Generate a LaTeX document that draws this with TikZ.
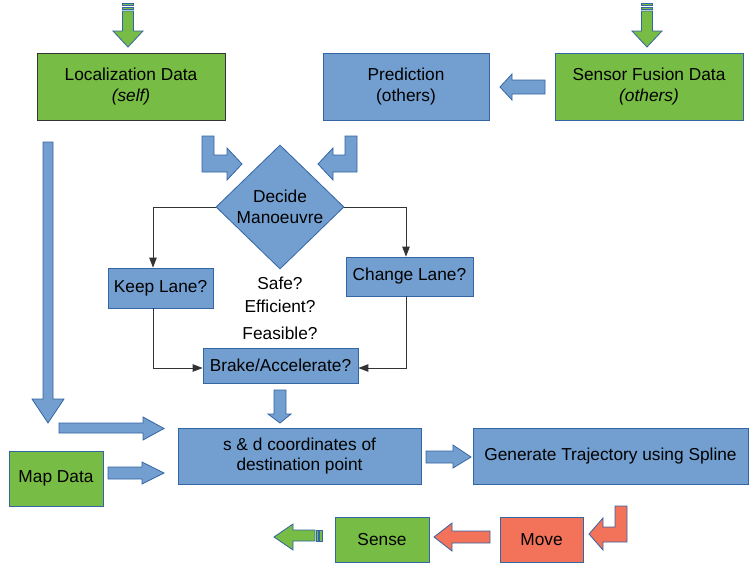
\documentclass[tikz,border=0pt]{standalone}
\usepackage{fontspec}
\setmainfont{Liberation Sans}
\usetikzlibrary{shapes.geometric,arrows.meta}
\definecolor{bfill}{HTML}{729FCF}
\definecolor{bline}{HTML}{3465A4}
\definecolor{gfill}{RGB}{119,188,68}
\definecolor{rfill}{RGB}{242,114,90}
\definecolor{dline}{HTML}{333333}
\tikzset{
  box/.style={rectangle, draw=bline, line width=0.8pt, inner sep=0pt, align=center,
    font=\fontsize{17.3}{20.5}\selectfont},
  bbox/.style={box, fill=bfill},
  gbox/.style={box, fill=gfill},
  rbox/.style={box, fill=rfill},
  barrow/.style={fill=bfill, draw=bline, line width=0.8pt, line join=miter},
  garrow/.style={fill=gfill, draw=bline, line width=0.8pt, line join=miter},
  gstripe/.style={fill=gfill, draw=bline, line width=0.4pt},
  rarrow/.style={fill=rfill, draw=bline, line width=0.8pt, line join=miter},
  conn/.style={draw=dline, line width=0.9pt, -{Triangle[length=10pt,width=7.5pt]}},
  lbl/.style={font=\fontsize{17.3}{20.5}\selectfont, inner sep=0pt},
}
\begin{document}
\begin{tikzpicture}[x=1pt,y=-1pt]
\useasboundingbox[fill=white] (0,0) rectangle (756,565);

% boxes
\node[gbox, draw=dline, minimum width=188pt, minimum height=67pt] (loc) at (131,86.5) {Localization Data\\\textit{(self)}};
\node[bbox, minimum width=166pt, minimum height=67pt] (pred) at (406,86.5) {Prediction\\(others)};
\node[gbox, minimum width=188pt, minimum height=67pt] (sens) at (649,86.5) {Sensor Fusion Data\\\textit{(others)}};

\node[diamond, fill=bfill, draw=bline, line width=0.8pt, inner sep=0pt, minimum width=128pt, minimum height=124pt] (dec) at (280,207) {};
\node[lbl, align=center] (dect) at (280,207) {Decide\\Manoeuvre};

\node[bbox, minimum width=105pt, minimum height=40pt] (keep) at (160.5,288) {Keep Lane?};
\node[bbox, minimum width=127pt, minimum height=39pt] (chg) at (409.5,276.5) {Change Lane?};
\node[bbox, minimum width=155pt, minimum height=35pt] (brake) at (280.5,365.5) {Brake/Accelerate?};

\node[lbl] (safe) at (280,283) {Safe?};
\node[lbl] (eff) at (280,306) {Efficient?};
\node[lbl] (feas) at (280,333) {Feasible?};

\node[bbox, minimum width=243pt, minimum height=56pt] (sd) at (299.5,456) {s \& d coordinates of\\destination point};
\node[bbox, minimum width=275pt, minimum height=56pt] (gen) at (610.5,456) {Generate Trajectory using Spline};
\node[gbox, minimum width=94pt, minimum height=55pt] (map) at (56,478.5) {Map Data};

\node[rbox, minimum width=83pt, minimum height=45pt] (move) at (541.5,539.5) {Move};
\node[gbox, minimum width=94pt, minimum height=45pt] (sense) at (382,539.5) {Sense};

% thin connectors
\draw[conn] (dec.west) -| ([xshift=-7.5pt]keep.north);
\draw[conn] (dec.east) -| ([xshift=-3.5pt]chg.north);
\draw[conn] ([xshift=-7.5pt]keep.south) |- ([yshift=-2.5pt]brake.west);
\draw[conn] ([xshift=-3.5pt]chg.south) |- ([yshift=-2.5pt]brake.east);

% top green striped arrows
\foreach \cx in {128,647}{
  \filldraw[gstripe] (\cx-5.5,3) rectangle (\cx+5.5,5.5);
  \filldraw[gstripe] (\cx-5.5,7) rectangle (\cx+5.5,9.5);
  \filldraw[garrow] (\cx-5.5,11) -- (\cx+5.5,11) -- (\cx+5.5,31) -- (\cx+15,31) -- (\cx,47) -- (\cx-15,31) -- (\cx-5.5,31) -- cycle;
}

% sensor -> prediction
\filldraw[barrow] (545,80) -- (512,80) -- (512,74) -- (500,87) -- (512,100) -- (512,94) -- (545,94) -- cycle;

% bent arrows into diamond
\filldraw[barrow] (202,136) -- (214,136) -- (214,155) -- (227,155) -- (227,148) -- (242,164) -- (227,180) -- (227,172) -- (202,172) -- cycle;
\filldraw[barrow] (357,136) -- (345,136) -- (345,155) -- (333,155) -- (333,148) -- (318,164) -- (333,180) -- (333,172) -- (357,172) -- cycle;

% long vertical arrow
\filldraw[barrow] (43,142) -- (53,142) -- (53,399) -- (64,399) -- (48,423) -- (32,399) -- (43,399) -- cycle;
% right arrows into s&d
\filldraw[barrow] (59,423) -- (143,423) -- (143,417) -- (164,428.5) -- (143,440) -- (143,433) -- (59,433) -- cycle;
\filldraw[barrow] (108,467) -- (142,467) -- (142,462) -- (164,473) -- (142,484) -- (142,479) -- (108,479) -- cycle;
% down arrow below brake
\filldraw[barrow] (274,390) -- (286,390) -- (286,414) -- (291,414) -- (280,423) -- (268,414) -- (274,414) -- cycle;
% s&d -> generate
\filldraw[barrow] (426,451) -- (453,451) -- (453,445) -- (471,457) -- (453,468) -- (453,463) -- (426,463) -- cycle;

% bottom bent arrow into move
\filldraw[rarrow] (627,506) -- (615,506) -- (615,527) -- (603,527) -- (603,518) -- (589,534) -- (603,550) -- (603,542) -- (627,542) -- cycle;
% move -> sense
\filldraw[rarrow] (490,531) -- (452,531) -- (452,523) -- (434,537) -- (452,551) -- (452,543) -- (490,543) -- cycle;
% green striped left arrow
\filldraw[gstripe] (319.5,530) rectangle (322,541);
\filldraw[gstripe] (316,530) rectangle (318,541);
\filldraw[garrow] (315,530) -- (293,530) -- (293,524) -- (274,537) -- (293,550) -- (293,541) -- (315,541) -- cycle;
\end{tikzpicture}
\end{document}
